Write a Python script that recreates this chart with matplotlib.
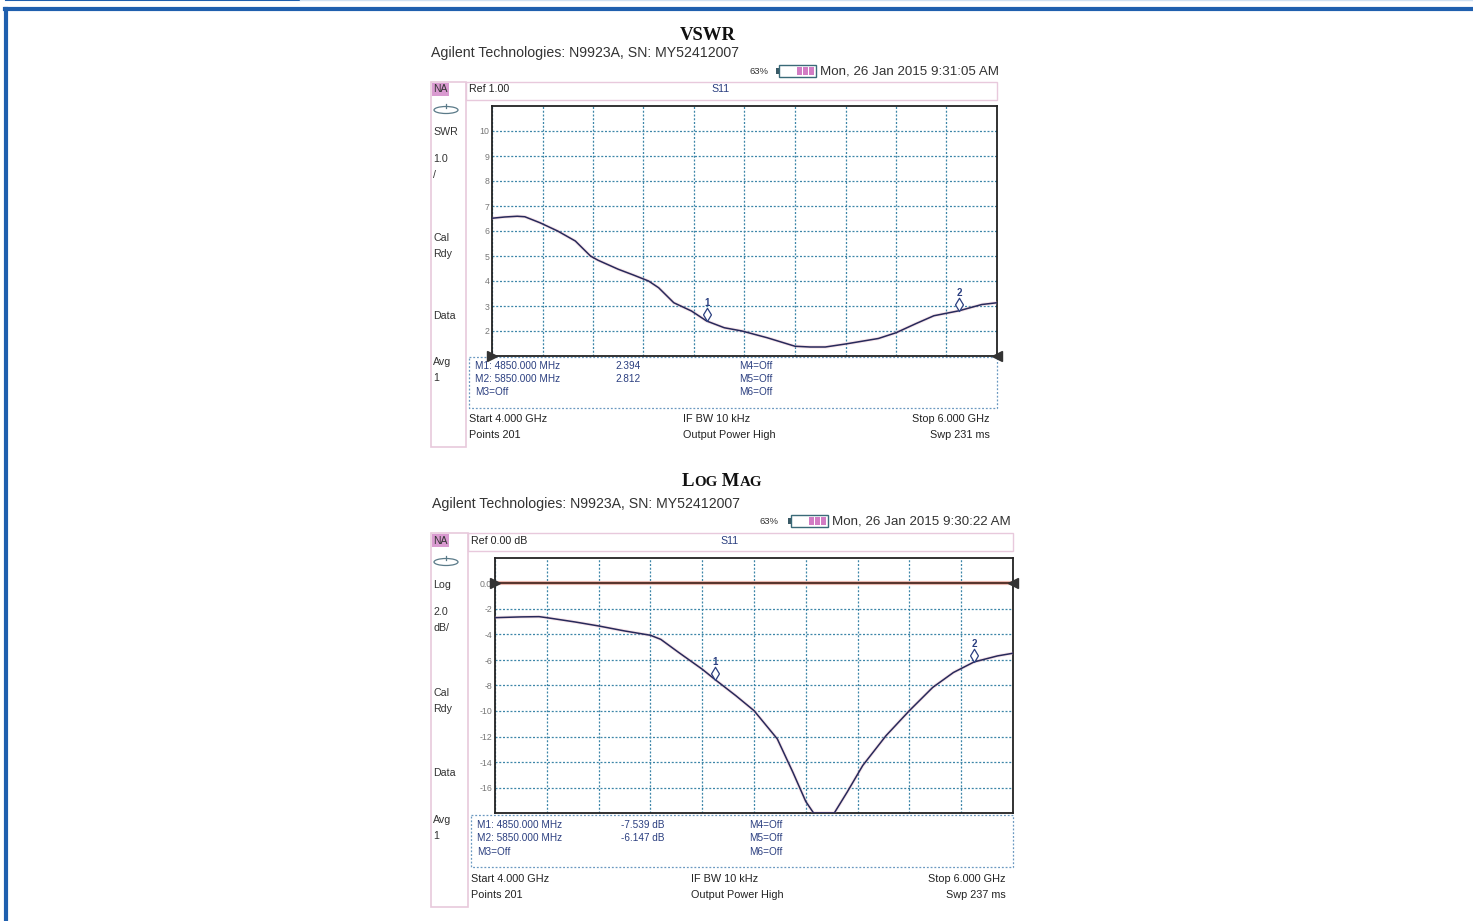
import numpy as np
import matplotlib
matplotlib.use("Agg")
import matplotlib.pyplot as plt
from matplotlib.patches import Rectangle, Ellipse
from matplotlib.path import Path
from matplotlib.lines import Line2D

W, H = 1473, 921

# ---------------- data ----------------
vswr_freq = [4.00, 4.05, 4.10, 4.13, 4.19, 4.26, 4.33, 4.39, 4.42, 4.50, 4.56, 4.62,
             4.66, 4.72, 4.79, 4.85, 4.92, 4.99, 5.09, 5.20, 5.26, 5.32, 5.40, 5.53,
             5.60, 5.68, 5.75, 5.85, 5.94, 6.00]
vswr_vals = [6.51, 6.56, 6.59, 6.57, 6.33, 6.00, 5.60, 5.00, 4.83, 4.47, 4.24, 4.00,
             3.73, 3.13, 2.80, 2.40, 2.13, 2.00, 1.73, 1.39, 1.36, 1.36, 1.48, 1.70,
             1.93, 2.30, 2.61, 2.81, 3.06, 3.13]

logmag_freq = [4.00, 4.10, 4.17, 4.20, 4.31, 4.40, 4.50, 4.60, 4.64, 4.71, 4.80, 4.85,
               4.93, 5.00, 5.09, 5.15, 5.20, 5.23, 5.31, 5.36, 5.42, 5.51, 5.60, 5.69,
               5.77, 5.85, 5.94, 6.00]
logmag_vals = [-2.68, -2.62, -2.60, -2.68, -3.02, -3.33, -3.72, -4.06, -4.38, -5.42,
               -6.72, -7.54, -8.80, -9.97, -12.19, -14.80, -17.10, -18.00, -18.00,
               -16.35, -14.27, -11.93, -9.97, -8.15, -6.98, -6.15, -5.68, -5.47]

marker_freq = [4.85, 5.85]
vswr_marker_vals = [2.394, 2.812]
logmag_marker_vals = [-7.539, -6.147]

vswr_yticks = [10, 9, 8, 7, 6, 5, 4, 3, 2]
vswr_yticklabels = ["10", "9", "8", "7", "6", "5", "4", "3", "2"]
logmag_yticks = [0, -2, -4, -6, -8, -10, -12, -14, -16]
logmag_yticklabels = ["0.0", "-2", "-4", "-6", "-8", "-10", "-12", "-14", "-16"]

vswr_sidebar = ["SWR", "1.0", "/", "Cal", "Rdy", "Data", "Avg", "1"]
logmag_sidebar = ["Log", "2.0", "dB/", "Cal", "Rdy", "Data", "Avg", "1"]

# ---------------- styles ----------------
SANS = ["Liberation Sans", "DejaVu Sans"]
SERIF = ["Liberation Serif", "DejaVu Serif"]
TRACE = "#28295a"
GRID = "#3d86a8"
NAVY = "#2b3f80"
PINK = "#e8c9dc"
FRAME = "#222222"

fig = plt.figure(figsize=(W / 100, H / 100), dpi=100)
bg = fig.add_axes([0, 0, 1, 1])
bg.set_xlim(0, W)
bg.set_ylim(H, 0)
bg.axis("off")
renderer = fig.canvas.get_renderer()

# outer blue frame
bg.add_line(Line2D([5, W], [9, 9], color="#1f5fae", lw=3.0))
bg.add_line(Line2D([6, 6], [9, H], color="#1f5fae", lw=3.0))
bg.add_line(Line2D([6, 300], [0.5, 0.5], color="#1f5fae", lw=1.5))
bg.add_line(Line2D([300, W], [0.5, 0.5], color="#cfe0f2", lw=1.0))


def txt(x, y, s, size=7.7, color="#222222", ha="left", family=SANS, weight="normal", **kw):
    return bg.text(x, y, s, fontsize=size, color=color, ha=ha, va="center",
                   family=family, fontweight=weight, **kw)


def title_text(xc, y, s, small_caps, big=13.5, small=10.8):
    if not small_caps:
        bg.text(xc, y, s, fontsize=big, color="#111111", ha="center", va="baseline",
                family=SERIF, fontweight="bold")
        return
    runs = []
    for wi, word in enumerate(s.split(" ")):
        prefix = " " if wi > 0 else ""
        runs.append((prefix + word[0], big))
        if len(word) > 1:
            runs.append((word[1:], small))
    objs = []
    for r, sz in runs:
        t = bg.text(0, y, r, fontsize=sz, color="#111111", ha="left", va="baseline",
                    family=SERIF, fontweight="bold")
        objs.append(t)
    widths = [t.get_window_extent(renderer=renderer).width for t in objs]
    x = xc - sum(widths) / 2
    for t, w in zip(objs, widths):
        t.set_x(x)
        x += w


def diamond_marker():
    verts = [(0, 0), (0.6, 1), (0, 2), (-0.6, 1), (0, 0)]
    codes = [Path.MOVETO, Path.LINETO, Path.LINETO, Path.LINETO, Path.CLOSEPOLY]
    return Path(verts, codes)


def panel(g, freq, vals, mvals, ylim, yticks, yticklabels, sidebar, title, small_caps,
          ref_label, date, unit, swp, reftrace):
    # title & header
    title_text(g["title"][0], g["title"][1], title, small_caps)
    txt(g["agi"][0], g["agi"][1], "Agilent Technologies: N9923A, SN: MY52412007",
        size=10.2, color="#333333")
    txt(g["pct"][0], g["pct"][1], "63%", size=6.8, color="#333333")
    bx, by = g["bat"]
    bg.add_patch(Rectangle((bx - 3, by + 3), 3, 6, facecolor="#3a5a66", edgecolor="none"))
    bg.add_patch(Rectangle((bx, by), 37, 12, facecolor="white", edgecolor="#3a6a78", lw=1.0))
    for k in range(3):
        bg.add_patch(Rectangle((bx + 18 + k * 6, by + 2), 4.5, 8, facecolor="#d27cc4",
                               edgecolor="none"))
    txt(g["date"][0], g["date"][1], date, size=9.6, color="#333333")

    # sidebar + header frames
    sx0, sy0, sx1, sy1 = g["side"]
    bg.add_patch(Rectangle((sx0, sy0), sx1 - sx0, sy1 - sy0, facecolor="white",
                           edgecolor=PINK, lw=1.2))
    px0, px1 = g["plot_x"]
    bg.add_patch(Rectangle((sx1, sy0), px1 - sx1, 18, facecolor="white",
                           edgecolor=PINK, lw=1.0))
    bg.add_patch(Rectangle((sx0 + 1, sy0 + 1), 17, 13, facecolor="#d99ad0",
                           edgecolor="none"))
    txt(sx0 + 2, sy0 + 7.5, "NA", size=7.5, color="#333333")
    ex, ey = sx0 + 15, g["icon_y"]
    bg.add_patch(Ellipse((ex, ey), 24, 7, facecolor="none", edgecolor="#5a7a88", lw=0.9))
    bg.add_line(Line2D([ex, ex], [ey - 6, ey - 2], color="#5a7a88", lw=0.9))
    for s, yy in zip(sidebar, g["side_y"]):
        txt(sx0 + 2, yy, s, size=7.7, color="#333333")
    txt(g["ref"][0], g["ref"][1], ref_label, size=7.7)
    txt(g["s11"][0], g["s11"][1], "S11", size=7.7, color=NAVY)

    # marker box
    mx0, my0, mx1, my1 = g["mbox"]
    bg.add_patch(Rectangle((mx0, my0), mx1 - mx0, my1 - my0, facecolor="white",
                           edgecolor="#6a98c0", lw=0.9, linestyle=(0, (1.5, 1.5))))
    c1, c2, c3 = g["mcols"]
    r1, r2, r3 = g["mrows"]
    txt(c1, r1, "M1: 4850.000 MHz", size=7.2, color=NAVY)
    txt(c1, r2, "M2: 5850.000 MHz", size=7.2, color=NAVY)
    txt(c1, r3, "M3=Off", size=7.2, color=NAVY)
    txt(c2, r1, f"{mvals[0]:.3f}{unit}", size=7.2, color=NAVY)
    txt(c2, r2, f"{mvals[1]:.3f}{unit}", size=7.2, color=NAVY)
    txt(c3, r1, "M4=Off", size=7.2, color=NAVY)
    txt(c3, r2, "M5=Off", size=7.2, color=NAVY)
    txt(c3, r3, "M6=Off", size=7.2, color=NAVY)

    # footer
    fl, fm, fr = g["fcols"]
    f1, f2 = g["frows"]
    txt(fl, f1, "Start 4.000 GHz", size=7.8)
    txt(fl, f2, "Points 201", size=7.8)
    txt(fm, f1, "IF BW 10 kHz", size=7.8)
    txt(fm, f2, "Output Power High", size=7.8)
    txt(fr, f1, "Stop 6.000 GHz", size=7.8, ha="right")
    txt(fr, f2, swp, size=7.8, ha="right")

    # plot area
    py0, py1 = g["plot_y"]
    ax = fig.add_axes([px0 / W, 1 - py1 / H, (px1 - px0) / W, (py1 - py0) / H])
    ax.set_xlim(4.0, 6.0)
    ax.set_ylim(*ylim)
    ax.set_xticks(np.linspace(4.0, 6.0, 11))
    ax.set_yticks(yticks)
    ax.set_yticklabels(yticklabels)
    ax.tick_params(axis="x", length=0, labelbottom=False)
    ax.tick_params(axis="y", length=0, labelsize=6.3, labelcolor="#777777", pad=2)
    for lab in ax.get_yticklabels():
        lab.set_family(SANS)
    ax.grid(True, color=GRID, lw=0.9, linestyle=(0, (1.6, 1.4)))
    ax.set_axisbelow(True)
    for sp in ax.spines.values():
        sp.set_color(FRAME)
        sp.set_linewidth(1.3)

    if reftrace is not None:
        ax.axhline(reftrace, color="#e9b9b0", lw=3.0, zorder=2)
        ax.axhline(reftrace, color="#4a2820", lw=1.3, zorder=3)
        ref_y = reftrace
    else:
        ref_y = ylim[0]
    ax.plot([4.0], [ref_y], marker=">", ms=7, color="#333333", clip_on=False, zorder=6)
    ax.plot([6.0], [ref_y], marker="<", ms=7, color="#333333", clip_on=False, zorder=6)

    ax.plot(freq, vals, color="#e4a8b8", lw=2.4, alpha=0.3, zorder=4)
    ax.plot(freq, vals, color=TRACE, lw=1.1, zorder=5)

    dm = diamond_marker()
    for i, (f, v) in enumerate(zip(marker_freq, mvals)):
        ax.plot([f], [v], marker=dm, ms=19, mfc="white", mec=NAVY, mew=0.9,
                linestyle="none", zorder=7)
        ax.annotate(str(i + 1), (f, v), xytext=(0, 13), textcoords="offset points",
                    ha="center", va="center", fontsize=7, color=NAVY,
                    fontweight="bold", family=SANS, zorder=8)
    return ax


g_vswr = dict(title=(708, 40), agi=(431, 53), pct=(749, 71), bat=(779, 65),
              date=(820, 71), side=(431, 82, 466, 447), plot_x=(492, 997),
              plot_y=(106, 356), icon_y=110,
              side_y=[132, 159, 175, 238, 254, 316, 362, 378],
              ref=(469, 89), s11=(711, 89), mbox=(469, 357, 997, 408),
              mcols=(475, 615, 739), mrows=(366, 379, 392),
              fcols=(469, 683, 990), frows=(419, 435))

g_log = dict(title=(722, 486), agi=(432, 504), pct=(760, 521), bat=(791, 515),
             date=(832, 521), side=(431, 533, 468, 907), plot_x=(495, 1013),
             plot_y=(558, 813), icon_y=562,
             side_y=[585, 612, 628, 693, 709, 773, 820, 836],
             ref=(471, 541), s11=(720, 541), mbox=(471, 815, 1013, 867),
             mcols=(477, 621, 749), mrows=(825, 838, 852),
             fcols=(471, 691, 1006), frows=(879, 895))

panel(g_vswr, vswr_freq, vswr_vals, vswr_marker_vals, (1.0, 11.0), vswr_yticks,
      vswr_yticklabels, vswr_sidebar, "VSWR", False, "Ref 1.00",
      "Mon, 26 Jan 2015 9:31:05 AM", "", "Swp 231 ms", None)
panel(g_log, logmag_freq, logmag_vals, logmag_marker_vals, (-18.0, 2.0), logmag_yticks,
      logmag_yticklabels, logmag_sidebar, "LOG MAG", True, "Ref 0.00 dB",
      "Mon, 26 Jan 2015 9:30:22 AM", " dB", "Swp 237 ms", 0.0)

fig.savefig("out.png", dpi=100)
